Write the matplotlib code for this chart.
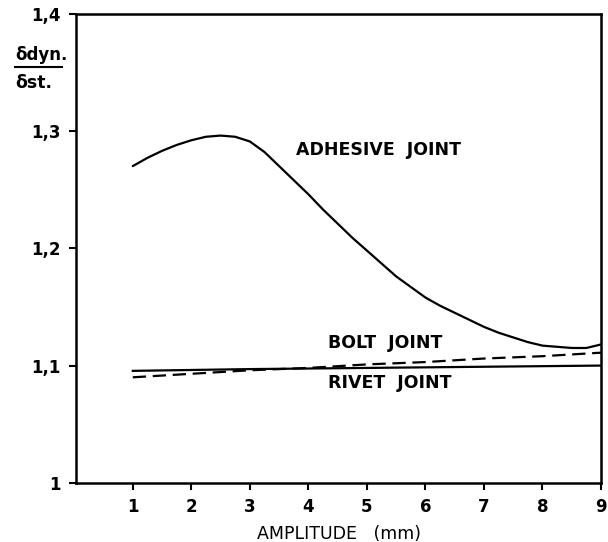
import matplotlib
matplotlib.use("Agg")
import matplotlib.pyplot as plt

# Data
amp_adhesive = [1.0, 1.25, 1.5, 1.75, 2.0, 2.25, 2.5, 2.75, 3.0, 3.25, 3.5, 3.75,
                4.0, 4.25, 4.5, 4.75, 5.0, 5.25, 5.5, 5.75, 6.0, 6.25, 6.5, 6.75,
                7.0, 7.25, 7.5, 7.75, 8.0, 8.25, 8.5, 8.75, 9.0]
ratio_adhesive = [1.270, 1.277, 1.283, 1.288, 1.292, 1.295, 1.296, 1.295, 1.291,
                  1.282, 1.270, 1.258, 1.246, 1.233, 1.221, 1.209, 1.198, 1.187,
                  1.176, 1.167, 1.158, 1.151, 1.145, 1.139, 1.133, 1.128, 1.124,
                  1.120, 1.117, 1.116, 1.115, 1.115, 1.118]

amp_bolt = [1, 2, 3, 4, 5, 6, 7, 8, 9]
ratio_bolt = [1.090, 1.093, 1.096, 1.098, 1.101, 1.103, 1.106, 1.108, 1.111]

amp_rivet = [1, 3, 5, 7, 9]
ratio_rivet = [1.0955, 1.097, 1.098, 1.099, 1.100]

x_ticks = [1, 2, 3, 4, 5, 6, 7, 8, 9]
y_ticks = [1.0, 1.1, 1.2, 1.3, 1.4]
y_tick_labels = ["1", "1,1", "1,2", "1,3", "1,4"]

plt.rcParams['font.family'] = ['DejaVu Sans']
fig = plt.figure(figsize=(6.08, 5.42), dpi=100)
ax = fig.add_axes([0.125, 0.109, 0.8635, 0.866])

ax.plot(amp_adhesive, ratio_adhesive, color='black', lw=1.6,
        solid_capstyle='round', solid_joinstyle='round')
ax.plot(amp_bolt, ratio_bolt, color='black', lw=1.6, linestyle=(0, (6, 3)))
ax.plot(amp_rivet, ratio_rivet, color='black', lw=1.6)

ax.set_xlim(0.03, 9)
ax.set_ylim(1.0, 1.4)
ax.set_xticks(x_ticks)
ax.set_xticklabels([str(t) for t in x_ticks], fontsize=12, fontweight='bold')
ax.set_yticks(y_ticks)
ax.set_yticklabels(y_tick_labels, fontsize=12, fontweight='bold')
ax.tick_params(direction='out', length=5, width=1.5, pad=6)
for s in ax.spines.values():
    s.set_linewidth(1.8)

ax.set_xlabel("AMPLITUDE   (mm)", fontsize=12.5, labelpad=6)

ax.text(3.79, 1.284, "ADHESIVE  JOINT", fontsize=12.5, fontweight='bold', va='center', ha='left')
ax.text(4.33, 1.119, "BOLT  JOINT", fontsize=12.5, fontweight='bold', va='center', ha='left')
ax.text(4.33, 1.085, "RIVET  JOINT", fontsize=12.5, fontweight='bold', va='center', ha='left')

# y-axis label as fraction
fig.text(15/608, 1 - 55/542, "δdyn.", fontsize=12, fontweight='bold', va='center', ha='left')
fig.add_artist(plt.Line2D([15/608, 62/608], [1 - 67/542, 1 - 67/542], color='black', lw=1.5))
fig.text(15/608, 1 - 83/542, "δst.", fontsize=12.5, fontweight='bold', va='center', ha='left')

fig.savefig("out.png", dpi=100)
